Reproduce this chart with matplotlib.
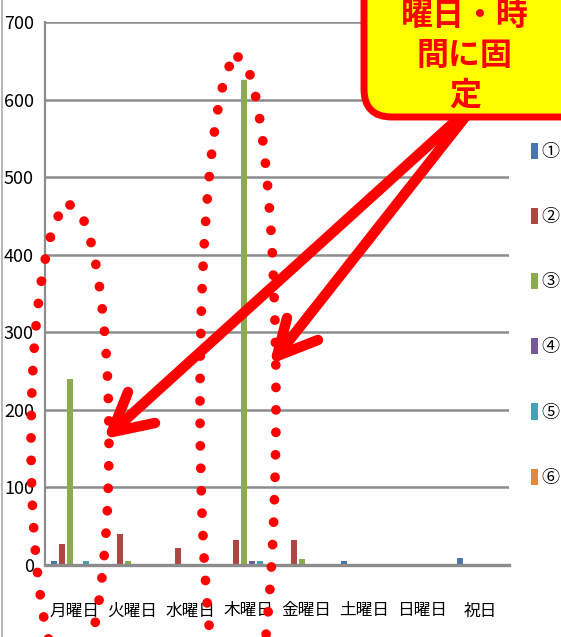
import matplotlib
matplotlib.use('Agg')
import matplotlib.pyplot as plt
import numpy as np
from matplotlib.patches import Ellipse, FancyBboxPatch

plt.rcParams['font.family'] = ['Noto Sans CJK JP', 'DejaVu Sans']

# data
days = ['月曜日', '火曜日', '水曜日', '木曜日', '金曜日', '土曜日', '日曜日', '祝日']
names = ['①', '②', '③', '④', '⑤', '⑥']
s1 = [5, 0, 0, 0, 0, 5, 0, 9]
s2 = [27, 40, 22, 32, 32, 0, 0, 0]
s3 = [240, 5, 0, 625, 8, 0, 0, 0]
s4 = [0, 0, 0, 5, 0, 0, 0, 0]
s5 = [5, 0, 0, 5, 0, 0, 0, 0]
s6 = [0, 0, 0, 0, 0, 0, 0, 0]
series = [s1, s2, s3, s4, s5, s6]
colors = ['#4A76AC', '#AD4744', '#8CAA4F', '#75599A', '#44A1B8', '#E6883C']

fig = plt.figure(figsize=(5.61, 6.37), dpi=100)
ax = fig.add_axes([45/561, 1-565/637, (509-45)/561, (565-22)/637])

x = np.arange(len(days))
step = 0.138
handles = []
for i, vals in enumerate(series):
    b = ax.bar(x + (i - 2.5)*step, vals, width=0.105, color=colors[i], zorder=3)
    handles.append(b)

ax.set_xlim(-0.5, len(days) - 0.5)
ax.set_ylim(0, 700)
ax.set_yticks(range(0, 701, 100))
ax.set_xticks(x)
ax.set_xticklabels(days, fontsize=12)
ax.tick_params(axis='both', length=0)
ax.tick_params(axis='y', pad=8, labelsize=13)
ax.tick_params(axis='x', pad=27)
ax.grid(axis='y', color='#8c8c8c', lw=1.8, zorder=0)
for sp in ['top', 'right']:
    ax.spines[sp].set_visible(False)
ax.spines['left'].set_color('#8c8c8c')
ax.spines['left'].set_linewidth(1.6)
ax.spines['bottom'].set_color('#8c8c8c')
ax.spines['bottom'].set_linewidth(2.4)
ax.spines['bottom'].set_zorder(4)

leg = ax.legend(handles, names, loc='center left', bbox_to_anchor=(531/561, 0.506),
                bbox_transform=fig.transFigure, frameon=False, fontsize=13,
                handlelength=0.4, handleheight=1.0, handletextpad=0.15,
                labelspacing=2.6, borderaxespad=0, borderpad=0)

# overlay in pixel coordinates for the hand-drawn marks
ov = fig.add_axes([0, 0, 1, 1])
ov.set_xlim(0, 561)
ov.set_ylim(637, 0)
ov.axis('off')

ov.plot([2.5, 2.5], [0, 637], color='#aaaaaa', lw=1.2)

dots = dict(fill=False, ec='red', lw=7, linestyle=(0, (0.01, 2.3)), capstyle='round')
ov.add_patch(Ellipse((70, 442), 78, 474, **dots))
ov.add_patch(Ellipse((238, 402), 76, 690, **dots))

arr = dict(color='red', lw=7.5, solid_capstyle='round', solid_joinstyle='round', zorder=5)
ov.plot([461, 112], [116, 432], **arr)
ov.plot([155, 112, 128], [423, 432, 392], **arr)
ov.plot([466, 277], [116, 356], **arr)
ov.plot([318, 277, 287], [340, 356, 318], **arr)

box = FancyBboxPatch((364, -40), 230, 157, boxstyle='round,pad=0,rounding_size=28',
                     fc='#FFFF00', ec='red', lw=5, zorder=6)
ov.add_patch(box)
for txt, ty in [('曜日・時', 16), ('間に固', 56), ('定', 96)]:
    ov.text(465, ty, txt, ha='center', va='center', fontsize=23, weight='bold',
            color='red', zorder=7)

fig.savefig('out.png', dpi=100)
